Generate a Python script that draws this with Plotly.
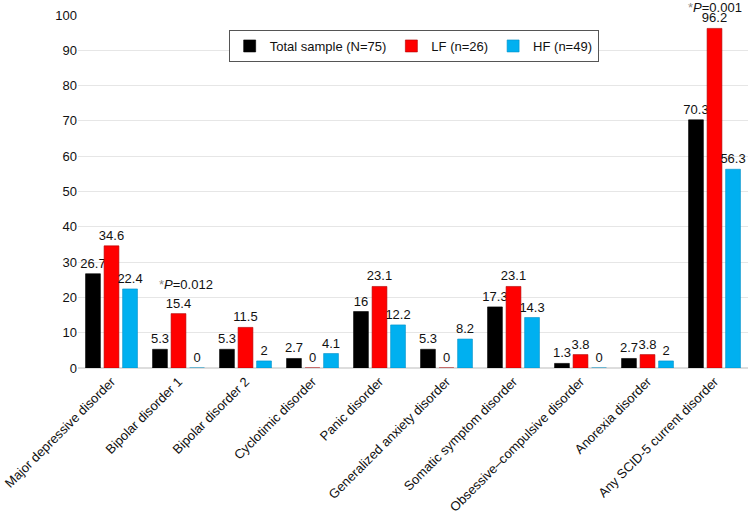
import plotly.graph_objects as go

categories = ["Major depressive disorder", "Bipolar disorder 1", "Bipolar disorder 2",
              "Cyclotimic disorder", "Panic disorder", "Generalized anxiety disorder",
              "Somatic symptom disorder", "Obsessive\u2013compulsive disorder",
              "Anorexia disorder", "Any SCID-5 current disorder"]
total = [26.7, 5.3, 5.3, 2.7, 16, 5.3, 17.3, 1.3, 2.7, 70.3]
lf = [34.6, 15.4, 11.5, 0, 23.1, 0, 23.1, 3.8, 3.8, 96.2]
hf = [22.4, 0, 2, 4.1, 12.2, 8.2, 14.3, 0, 2, 56.3]
series_names = ["Total sample (N=75)", "LF (n=26)", "HF (n=49)"]
colors = ["#000000", "#FF0000", "#00B0F0"]
line_colors = ["#000000", "#B00000", "#0090C8"]

fig = go.Figure()
for name, vals, c, lc in zip(series_names, [total, lf, hf], colors, line_colors):
    fig.add_trace(go.Bar(
        x=categories, y=vals, name=name,
        marker=dict(color=c, line=dict(color=lc, width=0.6)),
        text=[f"{v:g}" for v in vals], textposition="outside",
        textfont=dict(size=13, color="#111111"),
        constraintext="none", cliponaxis=False,
    ))

fig.add_annotation(x=categories[1], y=23.6, xref="x", yref="y",
                   text="<span style='color:#888888'>*</span><i>P</i>=0.012",
                   showarrow=False, font=dict(size=13, color="#111111"),
                   xanchor="left", xshift=-22)
fig.add_annotation(x=categories[9], y=1, xref="x", yref="paper",
                   text="<span style='color:#888888'>*</span><i>P</i>=0.001",
                   showarrow=False, font=dict(size=13, color="#111111"),
                   yanchor="bottom", yshift=-1, borderpad=0)

fig.update_layout(
    width=751, height=514,
    margin=dict(l=78, r=3, t=15, b=146),
    paper_bgcolor="white", plot_bgcolor="white",
    font=dict(family="Liberation Sans, Arial, sans-serif", size=13, color="#111111"),
    barmode="group", bargap=0.17, bargroupgap=0.2,
    legend=dict(orientation="h", x=0.501, y=0.9575, xanchor="center", yanchor="top",
                bordercolor="#555555", borderwidth=1, bgcolor="white",
                font=dict(size=13), itemwidth=30, tracegroupgap=0),
    yaxis=dict(range=[0, 100], dtick=10, showgrid=True, gridcolor="#E6E6E6",
               gridwidth=1, zeroline=True, zerolinecolor="#DDDDDD", ticks="",
               tickfont=dict(size=13), showline=False, automargin=False),
    xaxis=dict(tickangle=-45, ticks="", showline=True, linecolor="#DDDDDD",
               tickfont=dict(size=13), automargin=False),
)
fig.write_html("out.html", config={"displayModeBar": False},
               post_script="document.body.style.margin='0';")
